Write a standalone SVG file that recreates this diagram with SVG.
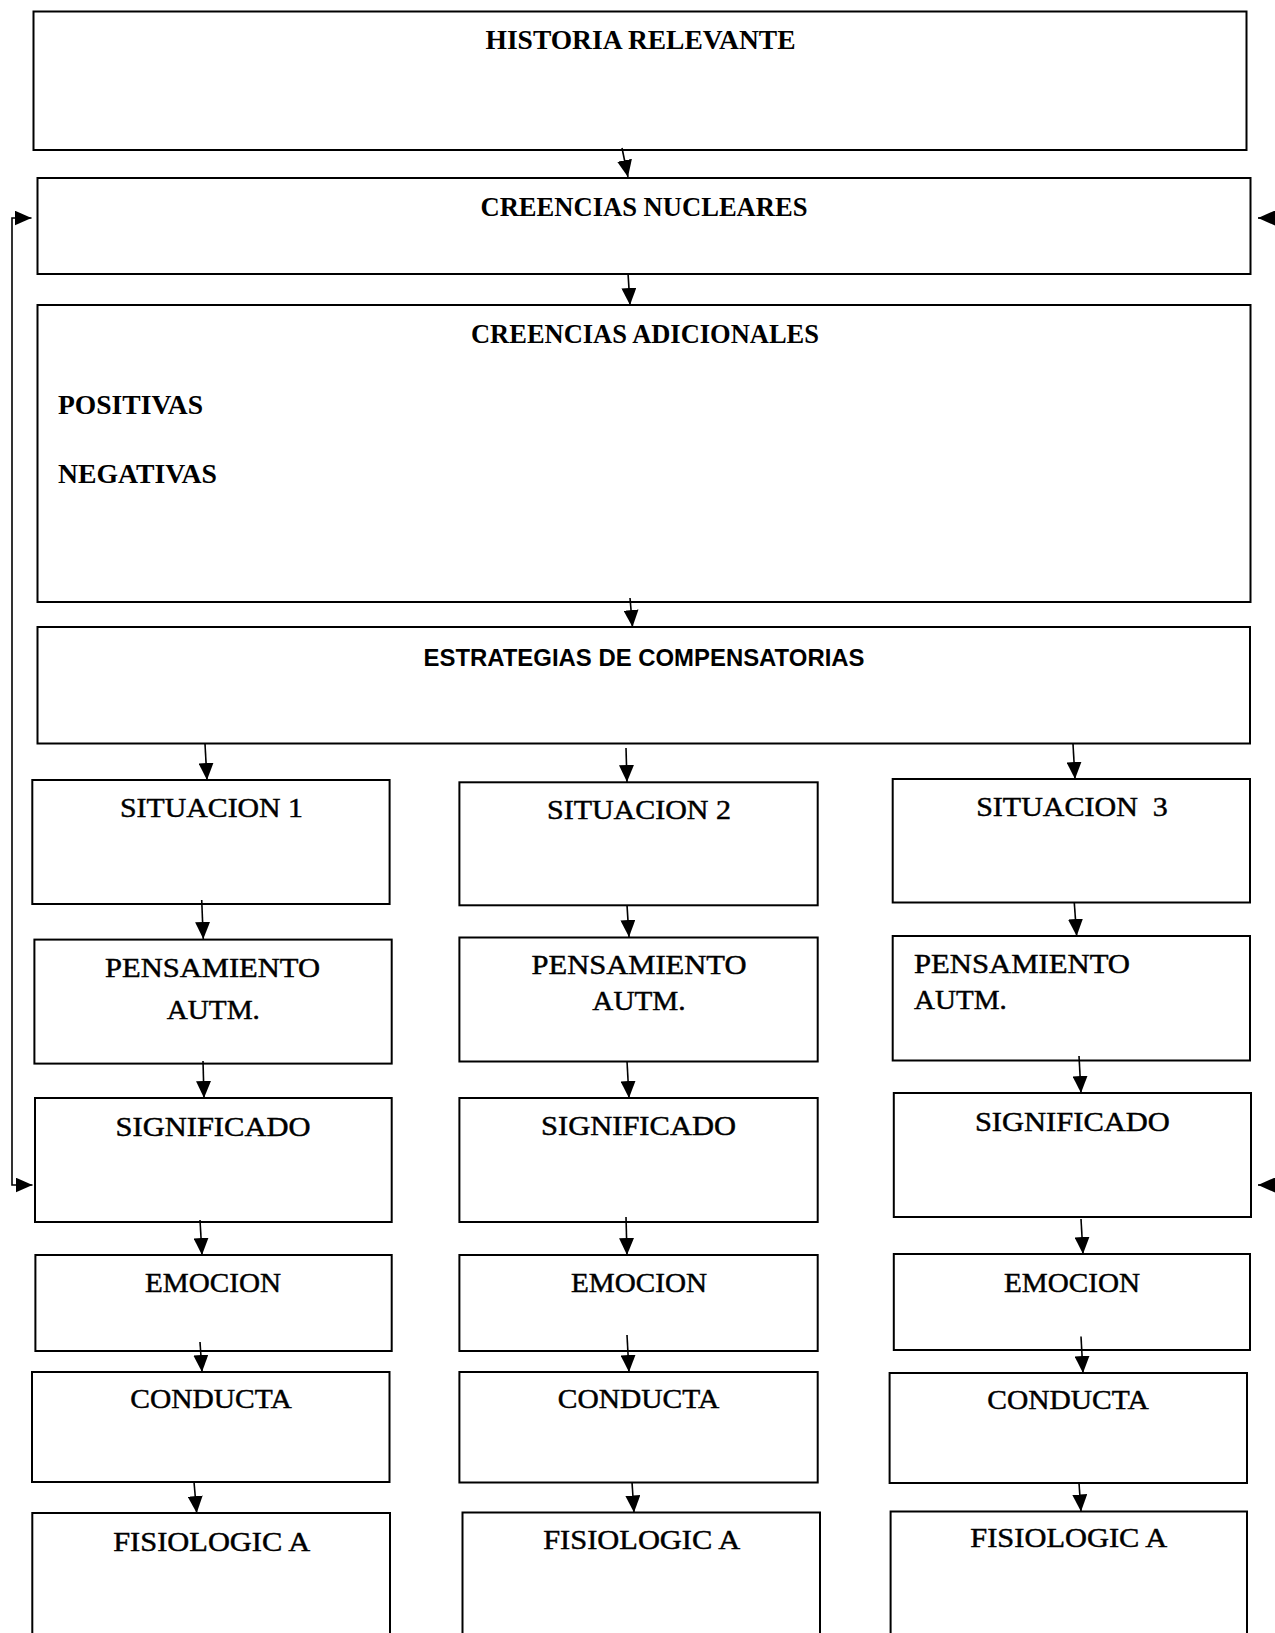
<svg xmlns="http://www.w3.org/2000/svg" width="1275" height="1633" viewBox="0 0 1275 1633">
<style>
.box{fill:#fff;stroke:#000;stroke-width:2}
.hd{font-family:"Liberation Serif",serif;font-weight:bold;font-size:28px;fill:#000}
.tx{font-family:"Liberation Serif",serif;font-size:27.5px;fill:#000;stroke:#000;stroke-width:0.45}
.sn{font-family:"Liberation Sans",sans-serif;font-weight:bold;font-size:23px;fill:#000}
.cn{fill:none;stroke:#000;stroke-width:1.6;marker-end:url(#ah)}
</style>
<defs>
<marker id="ah" markerUnits="userSpaceOnUse" markerWidth="17" markerHeight="15" refX="17" refY="7.5" orient="auto-start-reverse">
<path d="M0,0 L17,7.5 L0,15 z" fill="#000"/>
</marker>
</defs>
<rect width="1275" height="1633" fill="#fff"/>

<g id="historia"><rect class="box" x="33.5" y="11.5" width="1213" height="138.5"/>
<text class="hd" x="640.5" y="49" text-anchor="middle" textLength="310" lengthAdjust="spacingAndGlyphs">HISTORIA RELEVANTE</text></g>

<g id="nucleares"><rect class="box" x="37.5" y="178" width="1213" height="96"/>
<text class="hd" x="644" y="215.5" text-anchor="middle" textLength="327" lengthAdjust="spacingAndGlyphs">CREENCIAS NUCLEARES</text></g>

<g id="adicionales"><rect class="box" x="37.5" y="305" width="1213" height="297"/>
<text class="hd" x="645" y="343" text-anchor="middle" textLength="348" lengthAdjust="spacingAndGlyphs">CREENCIAS ADICIONALES</text>
<text class="hd" x="58" y="413.5" textLength="145" lengthAdjust="spacingAndGlyphs">POSITIVAS</text>
<text class="hd" x="58" y="483" textLength="159" lengthAdjust="spacingAndGlyphs">NEGATIVAS</text></g>

<g id="estrategias"><rect class="box" x="37.5" y="627" width="1212.5" height="116.5"/>
<text class="sn" x="644" y="666" text-anchor="middle" textLength="441" lengthAdjust="spacingAndGlyphs">ESTRATEGIAS DE COMPENSATORIAS</text></g>

<g id="situacion1"><rect class="box" x="32.3" y="780" width="357.3" height="124"/>
<text class="tx" x="211.5" y="817" text-anchor="middle" textLength="183" lengthAdjust="spacingAndGlyphs">SITUACION 1</text></g>
<g id="situacion2"><rect class="box" x="459.4" y="782.3" width="358.3" height="123"/>
<text class="tx" x="639" y="819" text-anchor="middle" textLength="184" lengthAdjust="spacingAndGlyphs">SITUACION 2</text></g>
<g id="situacion3"><rect class="box" x="892.7" y="779" width="357.3" height="123.5"/>
<text class="tx" x="1072" y="815.6" text-anchor="middle" textLength="191.7" lengthAdjust="spacingAndGlyphs" xml:space="preserve">SITUACION  3</text></g>

<g id="pensamiento1"><rect class="box" x="34.4" y="939.6" width="357.3" height="124"/>
<text class="tx" x="212.5" y="976.7" text-anchor="middle" textLength="215" lengthAdjust="spacingAndGlyphs">PENSAMIENTO</text>
<text class="tx" x="213.3" y="1019" text-anchor="middle" textLength="93.3" lengthAdjust="spacingAndGlyphs">AUTM.</text></g>
<g id="pensamiento2"><rect class="box" x="459.4" y="937.5" width="358.3" height="124"/>
<text class="tx" x="639" y="974" text-anchor="middle" textLength="215" lengthAdjust="spacingAndGlyphs">PENSAMIENTO</text>
<text class="tx" x="639" y="1009.5" text-anchor="middle" textLength="93.3" lengthAdjust="spacingAndGlyphs">AUTM.</text></g>
<g id="pensamiento3"><rect class="box" x="892.7" y="936" width="357.3" height="124.5"/>
<text class="tx" x="914" y="972.7" textLength="216" lengthAdjust="spacingAndGlyphs">PENSAMIENTO</text>
<text class="tx" x="914" y="1009.3" textLength="92.7" lengthAdjust="spacingAndGlyphs">AUTM.</text></g>

<g id="significado1"><rect class="box" x="35" y="1098" width="356.7" height="124"/>
<text class="tx" x="213" y="1135.5" text-anchor="middle" textLength="195" lengthAdjust="spacingAndGlyphs">SIGNIFICADO</text></g>
<g id="significado2"><rect class="box" x="459.4" y="1098" width="358.3" height="124"/>
<text class="tx" x="638.5" y="1134.5" text-anchor="middle" textLength="195" lengthAdjust="spacingAndGlyphs">SIGNIFICADO</text></g>
<g id="significado3"><rect class="box" x="893.8" y="1093" width="357.2" height="124"/>
<text class="tx" x="1072.4" y="1131" text-anchor="middle" textLength="195" lengthAdjust="spacingAndGlyphs">SIGNIFICADO</text></g>

<g id="emocion1"><rect class="box" x="35.4" y="1255" width="356.3" height="96"/>
<text class="tx" x="213" y="1292" text-anchor="middle" textLength="136" lengthAdjust="spacingAndGlyphs">EMOCION</text></g>
<g id="emocion2"><rect class="box" x="459.4" y="1255" width="358.3" height="96"/>
<text class="tx" x="639" y="1292" text-anchor="middle" textLength="136" lengthAdjust="spacingAndGlyphs">EMOCION</text></g>
<g id="emocion3"><rect class="box" x="893.8" y="1254" width="356.2" height="96"/>
<text class="tx" x="1072" y="1292" text-anchor="middle" textLength="136" lengthAdjust="spacingAndGlyphs">EMOCION</text></g>

<g id="conducta1"><rect class="box" x="32" y="1372" width="357.5" height="110"/>
<text class="tx" x="211" y="1408" text-anchor="middle" textLength="161.5" lengthAdjust="spacingAndGlyphs">CONDUCTA</text></g>
<g id="conducta2"><rect class="box" x="459.4" y="1372" width="358.3" height="110.5"/>
<text class="tx" x="638.5" y="1408" text-anchor="middle" textLength="161.5" lengthAdjust="spacingAndGlyphs">CONDUCTA</text></g>
<g id="conducta3"><rect class="box" x="889.6" y="1373" width="357.4" height="110"/>
<text class="tx" x="1068" y="1409" text-anchor="middle" textLength="161.5" lengthAdjust="spacingAndGlyphs">CONDUCTA</text></g>

<g id="fisiologica1"><rect class="box" x="32.3" y="1513" width="357.7" height="140"/>
<text class="tx" x="211.7" y="1550.7" text-anchor="middle" textLength="197" lengthAdjust="spacingAndGlyphs">FISIOLOGIC A</text></g>
<g id="fisiologica2"><rect class="box" x="462.5" y="1512.5" width="357.5" height="140"/>
<text class="tx" x="641.7" y="1549" text-anchor="middle" textLength="197" lengthAdjust="spacingAndGlyphs">FISIOLOGIC A</text></g>
<g id="fisiologica3"><rect class="box" x="890.6" y="1511.5" width="356.4" height="140"/>
<text class="tx" x="1068.8" y="1547" text-anchor="middle" textLength="197" lengthAdjust="spacingAndGlyphs">FISIOLOGIC A</text></g>

<g id="connectors">
<path class="cn" d="M622,148 L628,177"/>
<path class="cn" d="M628,273 L630,305"/>
<path class="cn" d="M630,598 L632.5,627"/>
<path class="cn" d="M205,744 L207,780"/>
<path class="cn" d="M626,748 L627,782"/>
<path class="cn" d="M1073,744 L1075,779"/>
<path class="cn" d="M201.7,900 L203.3,939"/>
<path class="cn" d="M627,905 L629,937"/>
<path class="cn" d="M1074.3,903 L1076.7,936"/>
<path class="cn" d="M203,1061 L204,1098"/>
<path class="cn" d="M627,1061 L629,1098"/>
<path class="cn" d="M1079,1056 L1081,1093"/>
<path class="cn" d="M200,1220 L202,1255"/>
<path class="cn" d="M626,1217 L627,1255"/>
<path class="cn" d="M1081,1219 L1083,1254"/>
<path class="cn" d="M200,1342 L202,1372"/>
<path class="cn" d="M627,1335 L629,1372"/>
<path class="cn" d="M1081,1336.5 L1083,1373"/>
<path class="cn" d="M194,1482 L196.7,1513"/>
<path class="cn" d="M632,1482 L634,1512.5"/>
<path class="cn" d="M1079,1483 L1081,1511.5"/>
<path fill="none" stroke="#000" stroke-width="1.6" d="M31.5,218 H12 V1185 H32.5" marker-start="url(#ah)" marker-end="url(#ah)"/>
<path class="cn" d="M1276,218 H1258"/>
<path class="cn" d="M1276,1185 H1258"/>
</g>
</svg>
